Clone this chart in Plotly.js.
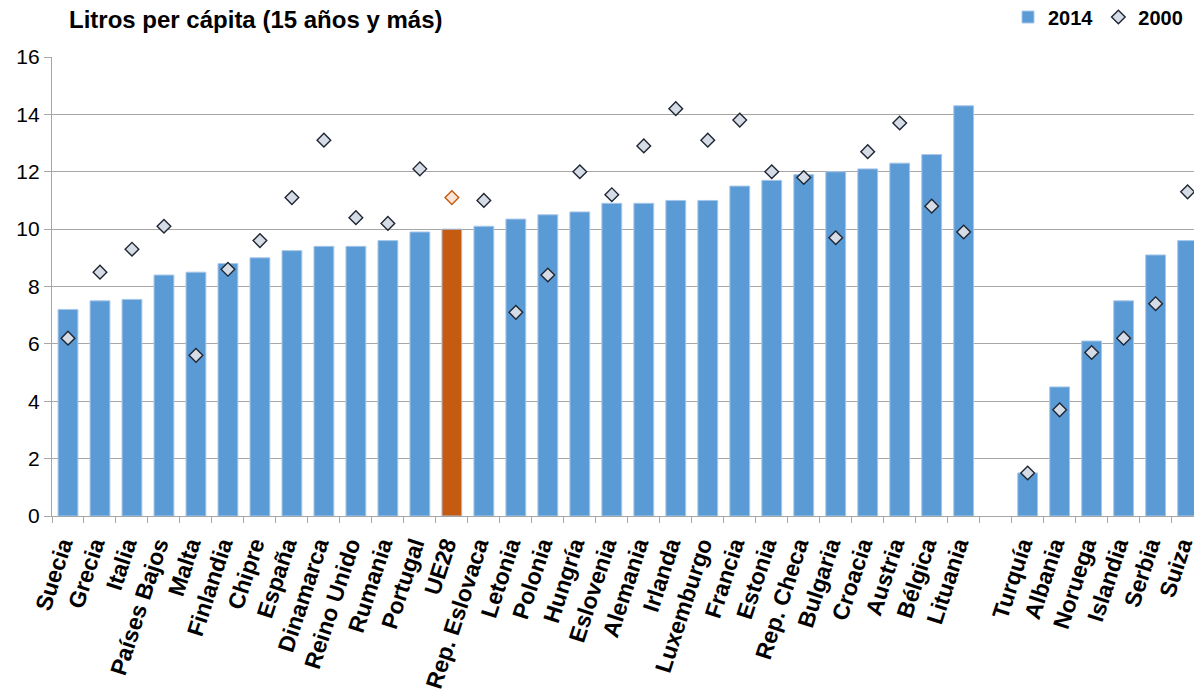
<!DOCTYPE html>
<html>
<head>
<meta charset="utf-8">
<script src="https://cdn.plot.ly/plotly-3.0.1.min.js"></script>
<style>
html,body{margin:0;padding:0;background:#fff;overflow:hidden;}
#chart{width:1194px;height:694px;}
</style>
</head>
<body>
<div id="chart"></div>
<script>
// Categories (" " is the empty gap slot between EU countries and the others)
const countries = ["Suecia","Grecia","Italia","Países Bajos","Malta","Finlandia","Chipre","España","Dinamarca","Reino Unido","Rumania","Portugal","UE28","Rep. Eslovaca","Letonia","Polonia","Hungría","Eslovenia","Alemania","Irlanda","Luxemburgo","Francia","Estonia","Rep. Checa","Bulgaria","Croacia","Austria","Bélgica","Lituania"," ","Turquía","Albania","Noruega","Islandia","Serbia","Suiza"];
const values2014 = [7.2,7.5,7.55,8.4,8.5,8.8,9.0,9.25,9.4,9.4,9.6,9.9,10.0,10.1,10.35,10.5,10.6,10.9,10.9,11.0,11.0,11.5,11.7,11.9,12.0,12.1,12.3,12.6,14.3,null,1.5,4.5,6.1,7.5,9.1,9.6];
const values2000 = [6.2,8.5,9.3,10.1,5.6,8.6,9.6,11.1,13.1,10.4,10.2,12.1,11.1,11.0,7.1,8.4,12.0,11.2,12.9,14.2,13.1,13.8,12.0,11.8,9.7,12.7,13.7,10.8,9.9,null,1.5,3.7,5.7,6.2,7.4,11.3];
const yTicks = [0,2,4,6,8,10,12,14,16];
const seriesNames = ["2014","2000"];
const titleText = "Litros per cápita (15 años y más)";

const BLUE = "#5B9BD5", ORANGE = "#C55A11";
const highlight = "UE28";
const barColors = countries.map(c => c === highlight ? ORANGE : BLUE);
const dFill = countries.map(c => c === highlight ? "#FBE5D6" : "#D6DCE5");
const dLine = countries.map(c => c === highlight ? ORANGE : "#1F2633");

const FONT = "Liberation Sans, Arial, sans-serif";

const traces = [
  {
    type: "bar", name: seriesNames[0], x: countries, y: values2014,
    marker: {color: barColors, line: {color: "#A8C7EA", width: 1}},
    hoverinfo: "x+y"
  },
  {
    type: "scatter", mode: "markers", name: seriesNames[1], x: countries, y: values2000,
    marker: {symbol: "diamond", size: 10.5, color: dFill, line: {color: dLine, width: 1.4}},
    cliponaxis: false
  }
];

const layout = {
  width: 1194, height: 694,
  margin: {l: 52, r: 0, t: 57, b: 178},
  paper_bgcolor: "#fff", plot_bgcolor: "#fff",
  font: {family: FONT, color: "#000"},
  bargap: 0.38,
  title: {
    text: "<b>" + titleText + "</b>",
    font: {family: FONT, size: 24, color: "#000"},
    x: 69/1194, xanchor: "left", xref: "container",
    y: 1 - 20/694, yanchor: "middle", yref: "container"
  },
  showlegend: true,
  legend: {
    orientation: "h", x: 1188/1194, xanchor: "right", y: 1 - 17/694, yanchor: "middle",
    yref: "container", xref: "container",
    font: {family: FONT, size: 20, color: "#000", weight: "bold"},
    itemwidth: 30, tracegroupgap: 0, bgcolor: "rgba(0,0,0,0)"
  },
  xaxis: {
    type: "category", range: [-0.5, 35.2],
    tickangle: -72, tickson: "boundaries", ticklabelshift: -6, ticklabelstandoff: 5,
    ticks: "outside", ticklen: 6, tickcolor: "#A6A6A6", tickwidth: 1,
    showline: true, linecolor: "#A6A6A6", linewidth: 1.3,
    showgrid: false, zeroline: false, automargin: false,
    tickfont: {family: FONT, size: 23, color: "#000", weight: "bold"}
  },
  yaxis: {
    range: [0, 16], tickvals: yTicks, ticktext: yTicks.map(String),
    ticks: "outside", ticklen: 7, tickcolor: "#A6A6A6",
    showline: true, linecolor: "#A6A6A6", linewidth: 1.3,
    showgrid: true, gridcolor: "#A6A6A6", gridwidth: 1.2,
    zeroline: false, automargin: false,
    tickfont: {family: FONT, size: 21, color: "#000"}
  }
};

Plotly.newPlot("chart", traces, layout, {displayModeBar: false, responsive: false});
</script>
</body>
</html>
